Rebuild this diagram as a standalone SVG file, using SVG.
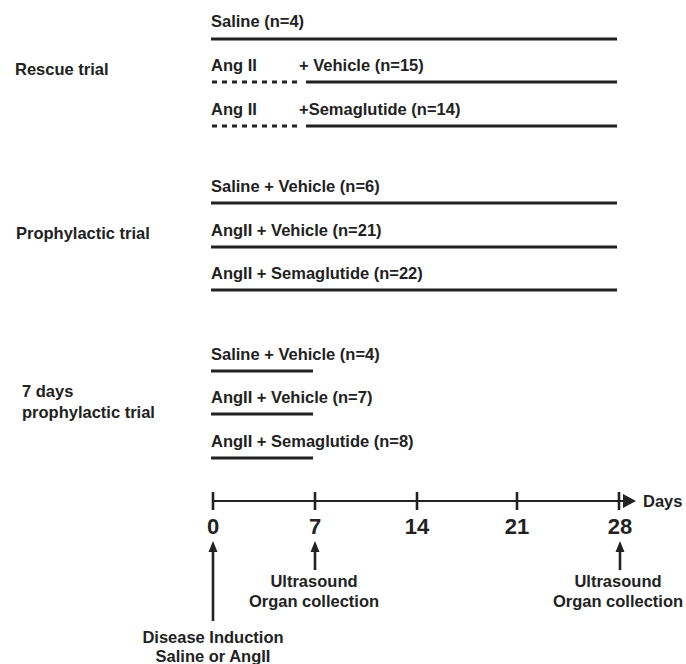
<svg xmlns="http://www.w3.org/2000/svg" width="686" height="664" viewBox="0 0 686 664">
<defs>
<style>
text{font-family:"Liberation Sans",Arial,sans-serif;font-weight:bold;font-size:16.5px;fill:#222}
.num{font-size:22px}
.mid{text-anchor:middle}
.bar{stroke:#222;stroke-width:3;fill:none}
.dash{stroke:#222;stroke-width:3;stroke-dasharray:5 5;fill:none}
.axis{stroke:#222;stroke-width:2.2;fill:none}
.tick{stroke:#222;stroke-width:2.6;fill:none}
.arr{stroke:#222;stroke-width:2.6;fill:none}
.head{fill:#222}
</style>
</defs>
<rect width="686" height="664" fill="#fff"/>

<g id="rescue-label"><text x="15" y="75">Rescue trial</text></g>
<g id="rescue-saline"><text x="211" y="27">Saline (n=4)</text></g>
<g id="rescue-vehicle"><text x="211" y="71">Ang II</text><text x="299" y="71">+ Vehicle (n=15)</text></g>
<g id="rescue-sema"><text x="211" y="115">Ang II</text><text x="299" y="115">+Semaglutide (n=14)</text></g>

<g id="proph-label"><text x="16" y="239">Prophylactic trial</text></g>
<g id="proph-saline"><text x="211" y="192">Saline + Vehicle (n=6)</text></g>
<g id="proph-vehicle"><text x="211" y="236">AngII + Vehicle (n=21)</text></g>
<g id="proph-sema"><text x="211" y="279">AngII + Semaglutide (n=22)</text></g>

<g id="seven-label"><text x="22" y="397">7 days</text><text x="22" y="418">prophylactic trial</text></g>
<g id="seven-saline"><text x="211" y="360">Saline + Vehicle (n=4)</text></g>
<g id="seven-vehicle"><text x="211" y="403">AngII + Vehicle (n=7)</text></g>
<g id="seven-sema"><text x="211" y="447">AngII + Semaglutide (n=8)</text></g>

<g id="timeline">
<line class="axis" x1="212" y1="501" x2="626" y2="501"/>
<path class="head" d="M623,494 L636,501 L623,508 Z"/>
<line class="tick" x1="213" y1="492" x2="213" y2="510"/>
<line class="tick" x1="315" y1="492" x2="315" y2="510"/>
<line class="tick" x1="417" y1="492" x2="417" y2="510"/>
<line class="tick" x1="517" y1="492" x2="517" y2="510"/>
<line class="tick" x1="619" y1="492" x2="619" y2="510"/>
<text x="643" y="507">Days</text>
<text class="num mid" x="213" y="534">0</text>
<text class="num mid" x="315" y="534">7</text>
<text class="num mid" x="417" y="534">14</text>
<text class="num mid" x="517" y="534">21</text>
<text class="num mid" x="620" y="534">28</text>
</g>

<g id="connectors">
<line class="bar" x1="211" y1="39" x2="617" y2="39"/>
<line class="dash" x1="212" y1="82" x2="302" y2="82"/>
<line class="bar" x1="306" y1="82" x2="617" y2="82"/>
<line class="dash" x1="212" y1="126" x2="302" y2="126"/>
<line class="bar" x1="306" y1="126" x2="617" y2="126"/>
<line class="bar" x1="211" y1="203" x2="617" y2="203"/>
<line class="bar" x1="211" y1="247" x2="617" y2="247"/>
<line class="bar" x1="211" y1="290" x2="617" y2="290"/>
<line class="bar" x1="211" y1="371" x2="313" y2="371"/>
<line class="bar" x1="211" y1="414" x2="313" y2="414"/>
<line class="bar" x1="211" y1="458" x2="313" y2="458"/>
<line class="arr" x1="213" y1="621" x2="213" y2="550"/>
<path class="head" d="M213,541 L217.5,552 L208.5,552 Z"/>
<line class="arr" x1="315" y1="570" x2="315" y2="550"/>
<path class="head" d="M315,541 L319.5,552 L310.5,552 Z"/>
<line class="arr" x1="620" y1="570" x2="620" y2="550"/>
<path class="head" d="M620,541 L624.5,552 L615.5,552 Z"/>
</g>

<g id="day7-note"><text class="mid" x="314" y="587">Ultrasound</text><text class="mid" x="314" y="607">Organ collection</text></g>
<g id="day28-note"><text class="mid" x="618" y="587">Ultrasound</text><text class="mid" x="618" y="607">Organ collection</text></g>
<g id="day0-note"><text class="mid" x="213" y="643">Disease Induction</text><text class="mid" x="213" y="662">Saline or AngII</text></g>
</svg>
